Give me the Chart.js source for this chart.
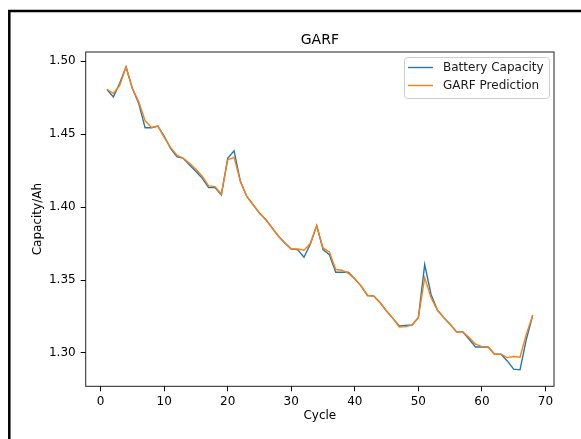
<!DOCTYPE html>
<html>
<head>
<meta charset="utf-8">
<script src="https://cdn.jsdelivr.net/npm/chart.js@4/dist/chart.umd.min.js"></script>
<style>
    html, body { margin: 0; padding: 0; background: #fff; }
    #wrap { width: 581px; height: 439px; position: relative; }
</style>
</head>
<body>
<div id="wrap"><canvas id="chart" width="581" height="439"></canvas></div>
<script>
// ===== Data =====
const cycles = [1, 2, 3, 4, 5, 6, 7, 8, 9, 10, 11, 12, 13, 14, 15, 16, 17, 18, 19, 20,
    21, 22, 23, 24, 25, 26, 27, 28, 29, 30, 31, 32, 33, 34, 35, 36, 37, 38, 39, 40,
    41, 42, 43, 44, 45, 46, 47, 48, 49, 50, 51, 52, 53, 54, 55, 56, 57, 58, 59, 60,
    61, 62, 63, 64, 65, 66, 67, 68];

const capacity = [
    1.4807, 1.4756, 1.4850, 1.4961, 1.4813, 1.4711, 1.4544, 1.4544, 1.4556, 1.4488,
    1.4403, 1.4346, 1.4335, 1.4289, 1.4244, 1.4198, 1.4134, 1.4134, 1.4084, 1.4335,
    1.4387, 1.4175, 1.4073, 1.4016, 1.3959, 1.3914, 1.3857, 1.3800, 1.3754, 1.3713,
    1.3709, 1.3656, 1.3745, 1.3873, 1.3709, 1.3674, 1.3553, 1.3553, 1.3553, 1.3508,
    1.3458, 1.3394, 1.3390, 1.3344, 1.3287, 1.3237, 1.3185, 1.3189, 1.3191, 1.3242,
    1.3606, 1.3401, 1.3294, 1.3242, 1.3196, 1.3144, 1.3144, 1.3094, 1.3041, 1.3041,
    1.3041, 1.2991, 1.2991, 1.2945, 1.2889, 1.2884, 1.3094, 1.3258
];

const prediction = [
    1.4807, 1.4780, 1.4835, 1.4961, 1.4813, 1.4722, 1.4592, 1.4547, 1.4556, 1.4479,
    1.4410, 1.4356, 1.4335, 1.4301, 1.4260, 1.4210, 1.4146, 1.4141, 1.4091, 1.4324,
    1.4342, 1.4175, 1.4073, 1.4016, 1.3959, 1.3914, 1.3857, 1.3800, 1.3754, 1.3713,
    1.3713, 1.3704, 1.3750, 1.3873, 1.3720, 1.3693, 1.3572, 1.3567, 1.3545, 1.3508,
    1.3458, 1.3394, 1.3390, 1.3344, 1.3287, 1.3237, 1.3178, 1.3180, 1.3191, 1.3242,
    1.3515, 1.3378, 1.3294, 1.3242, 1.3196, 1.3144, 1.3144, 1.3105, 1.3060, 1.3043,
    1.3041, 1.2991, 1.2991, 1.2968, 1.2975, 1.2971, 1.3128, 1.3258
];

const xTicks = [0, 10, 20, 30, 40, 50, 60, 70];
const yTicks = [1.30, 1.35, 1.40, 1.45, 1.50];

const FONT = 'DejaVu Sans';

// ===== Plugins =====
// outer black frame of the figure image + axes spines
const framePlugin = {
    id: 'frame',
    beforeDraw(chart) {
        const ctx = chart.ctx;
        ctx.save();
        ctx.strokeStyle = '#000';
        ctx.lineWidth = 2.5;
        ctx.beginPath();
        ctx.moveTo(9.3, 439);
        ctx.lineTo(9.3, 11);
        ctx.lineTo(581, 11);
        ctx.stroke();
        ctx.restore();
    },
    afterDatasetsDraw(chart) {
        const { ctx, chartArea: a } = chart;
        ctx.save();
        ctx.strokeStyle = '#222';
        ctx.lineWidth = 1;
        ctx.strokeRect(a.left, a.top, a.right - a.left, a.bottom - a.top);
        ctx.restore();
    }
};

// matplotlib-style legend in the upper right corner
const legendPlugin = {
    id: 'mplLegend',
    afterDraw(chart) {
        const ctx = chart.ctx;
        const a = chart.chartArea;
        const x0 = a.right - 150, y0 = a.top + 5, w = 145, h = 41;
        ctx.save();
        ctx.fillStyle = 'rgba(255,255,255,0.8)';
        ctx.strokeStyle = '#cccccc';
        ctx.lineWidth = 1;
        ctx.beginPath();
        ctx.roundRect(x0 + 0.5, y0 + 0.5, w, h, 3);
        ctx.fill();
        ctx.stroke();
        ctx.font = '12px ' + FONT;
        ctx.textBaseline = 'middle';
        chart.data.datasets.forEach((ds, i) => {
            const yy = y0 + 10.5 + i * 18;
            ctx.strokeStyle = ds.borderColor;
            ctx.lineWidth = 1.4;
            ctx.beginPath();
            ctx.moveTo(x0 + 4, yy);
            ctx.lineTo(x0 + 29, yy);
            ctx.stroke();
            ctx.fillStyle = '#1a1a1a';
            ctx.fillText(ds.label, x0 + 39, yy);
        });
        ctx.restore();
    }
};

// ===== Chart =====
const ctx = document.getElementById('chart').getContext('2d');
new Chart(ctx, {
    type: 'line',
    data: {
        datasets: [
            {
                label: 'Battery Capacity',
                data: cycles.map((c, i) => ({ x: c, y: capacity[i] })),
                borderColor: '#1f77b4',
                borderWidth: 1.4,
                pointRadius: 0,
                tension: 0,
                fill: false,
                order: 1
            },
            {
                label: 'GARF Prediction',
                data: cycles.map((c, i) => ({ x: c, y: prediction[i] })),
                borderColor: '#ff7f0e',
                borderWidth: 1.4,
                pointRadius: 0,
                tension: 0,
                fill: false,
                order: 0
            }
        ]
    },
    options: {
        responsive: false,
        animation: false,
        layout: { padding: { top: 0, left: 0, right: 27, bottom: 0 } },
        plugins: {
            legend: { display: false },
            tooltip: { enabled: false },
            title: {
                display: true,
                fullSize: false,
                text: 'GARF',
                color: '#000',
                font: { family: FONT, size: 14, weight: 'normal' },
                padding: { top: 31.6, bottom: 3.6 }
            }
        },
        scales: {
            x: {
                type: 'linear',
                min: -2.35,
                max: 71.35,
                afterBuildTicks: s => { s.ticks = xTicks.map(v => ({ value: v })); },
                afterFit: s => { s.height = 52.7; },
                grid: { display: true, drawOnChartArea: false, drawTicks: true, tickLength: 5, color: '#000' },
                border: { display: false },
                ticks: {
                    color: '#000',
                    font: { family: FONT, size: 12 },
                    padding: 3,
                    maxRotation: 0,
                    autoSkip: false
                },
                title: {
                    display: true,
                    text: 'Cycle',
                    color: '#000',
                    font: { family: FONT, size: 12 },
                    padding: { top: 0, bottom: 15.8 }
                }
            },
            y: {
                type: 'linear',
                min: 1.2771,
                max: 1.5064,
                afterBuildTicks: s => { s.ticks = yTicks.map(v => ({ value: v })); },
                afterFit: s => { s.width = 85.7; },
                grid: { display: true, drawOnChartArea: false, drawTicks: true, tickLength: 5, color: '#000' },
                border: { display: false },
                ticks: {
                    color: '#000',
                    font: { family: FONT, size: 12 },
                    padding: 5,
                    callback: v => v.toFixed(2)
                },
                title: {
                    display: true,
                    text: 'Capacity/Ah',
                    color: '#000',
                    font: { family: FONT, size: 12 },
                    padding: { top: 30.8, bottom: 0 }
                }
            }
        }
    },
    plugins: [framePlugin, legendPlugin]
});
</script>
</body>
</html>
